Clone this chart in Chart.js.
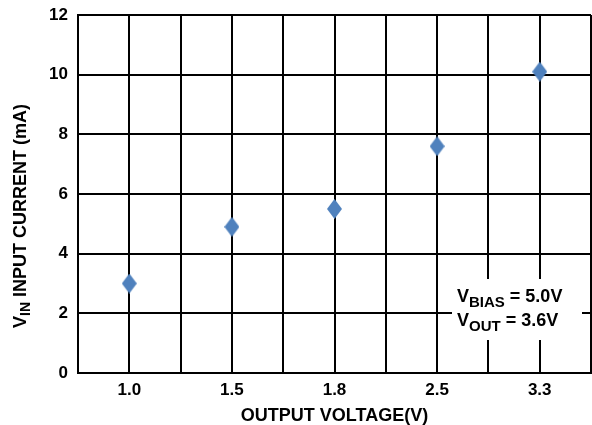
<!DOCTYPE html>
<html>
<head>
<meta charset="utf-8">
<script src="https://cdn.jsdelivr.net/npm/chart.js@4/dist/chart.umd.min.js"></script>
<style>
html,body{margin:0;padding:0;background:#fff;}
#wrap{width:592px;height:425px;position:relative;}
</style>
</head>
<body>
<div id="wrap"><canvas id="c" width="592" height="425"></canvas></div>
<script>
const categories = ['1.0', '1.5', '1.8', '2.5', '3.3'];
const currentMA = [3.0, 4.9, 5.5, 7.6, 10.1];
const yTicks = [0, 2, 4, 6, 8, 10, 12];
const xTitle = 'OUTPUT VOLTAGE(V)';
const yTitle = [['V', ''], ['IN', 'sub'], [' INPUT CURRENT (mA)', '']];
const noteLines = [
  [['V', ''], ['BIAS', 'sub'], [' = 5.0V', '']],
  [['V', ''], ['OUT', 'sub'], [' = 3.6V', '']]
];

const FONT = 'Arial, "Liberation Sans", sans-serif';

function diamond() {
  const w = 15, h = 20;
  const cv = document.createElement('canvas');
  cv.width = w; cv.height = h;
  const g = cv.getContext('2d');
  g.fillStyle = '#4F81BD';
  g.beginPath();
  g.moveTo(w / 2, 0); g.lineTo(w, h / 2); g.lineTo(w / 2, h); g.lineTo(0, h / 2);
  g.closePath(); g.fill();
  return cv;
}

function drawRich(ctx, parts, x, y, size, subSize, subDy) {
  let cx = x;
  parts.forEach(([t, kind]) => {
    if (kind === 'sub') {
      ctx.font = 'bold ' + subSize + 'px ' + FONT;
      ctx.fillText(t, cx, y + subDy);
    } else {
      ctx.font = 'bold ' + size + 'px ' + FONT;
      ctx.fillText(t, cx, y);
    }
    cx += ctx.measureText(t).width;
  });
  return cx - x;
}
function richWidth(ctx, parts, size, subSize) {
  let w = 0;
  parts.forEach(([t, kind]) => {
    ctx.font = 'bold ' + (kind === 'sub' ? subSize : size) + 'px ' + FONT;
    w += ctx.measureText(t).width;
  });
  return w;
}

const textPlugin = {
  id: 'texts',
  afterDraw(chart) {
    const ctx = chart.ctx;
    const a = chart.chartArea;
    ctx.save();
    ctx.fillStyle = '#000';
    ctx.textBaseline = 'alphabetic';
    ctx.textAlign = 'left';
    // x title
    ctx.font = 'bold 18px ' + FONT;
    const xw = ctx.measureText(xTitle).width;
    ctx.fillText(xTitle, (a.left + a.right) / 2 - xw / 2, 421);
    // y title rotated
    ctx.save();
    ctx.translate(26, 216);
    ctx.rotate(-Math.PI / 2);
    const yw = richWidth(ctx, yTitle, 18, 14);
    drawRich(ctx, yTitle, -yw / 2, 0, 18, 14, 4);
    ctx.restore();
    // note box
    ctx.fillStyle = '#fff';
    ctx.fillRect(452, 279, 130, 61);
    ctx.fillStyle = '#000';
    noteLines.forEach((ln, i) => {
      drawRich(ctx, ln, 457, 302 + i * 24, 18, 15, 5);
    });
    ctx.restore();
  }
};

new Chart(document.getElementById('c'), {
  type: 'scatter',
  data: {
    datasets: [{
      data: currentMA.map((v, i) => ({ x: i + 1, y: v })),
      pointStyle: diamond(),
      pointRadius: 10,
      pointHoverRadius: 10
    }]
  },
  options: {
    responsive: false,
    animation: false,
    events: [],
    layout: { autoPadding: false, padding: { top: 15, right: 1, left: 0, bottom: 0 } },
    plugins: { legend: { display: false }, tooltip: { enabled: false } },
    scales: {
      x: {
        type: 'linear',
        min: 0.5, max: categories.length + 0.5,
        afterBuildTicks(scale) {
          const t = [];
          for (let v = 0.5; v <= categories.length + 0.5 + 1e-9; v += 0.5) t.push({ value: v });
          scale.ticks = t;
        },
        afterFit(scale) { scale.height = 52; scale.paddingLeft = 0; scale.paddingRight = 0; },
        grid: { color: '#000', lineWidth: 2, drawTicks: false },
        border: { color: '#000', width: 2 },
        ticks: {
          autoSkip: false, maxRotation: 0, padding: 7,
          color: '#000', font: { family: FONT, size: 17, weight: 'bold' },
          callback(v) {
            return Number.isInteger(v) ? categories[v - 1] : '';
          }
        }
      },
      y: {
        min: 0, max: 12,
        afterBuildTicks(scale) { scale.ticks = yTicks.map(v => ({ value: v })); },
        afterFit(scale) { scale.width = 78; scale.paddingTop = 0; scale.paddingBottom = 0; },
        grid: { color: '#000', lineWidth: 2, drawTicks: false },
        border: { color: '#000', width: 2 },
        ticks: {
          padding: 10, color: '#000',
          font: { family: FONT, size: 17, weight: 'bold' }
        }
      }
    }
  },
  plugins: [textPlugin]
});
</script>
</body>
</html>
